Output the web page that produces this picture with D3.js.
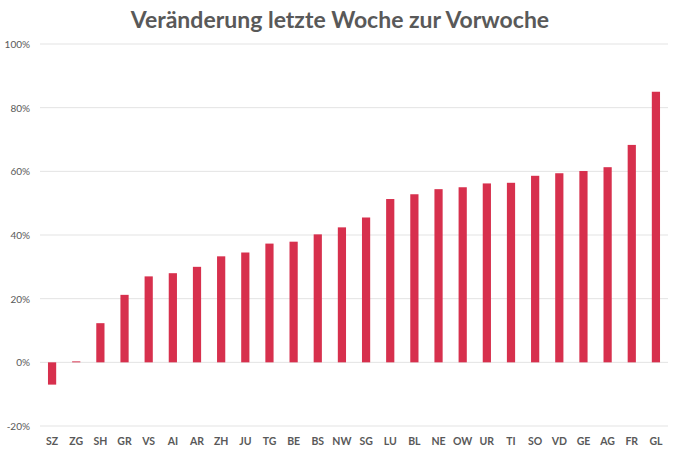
<!DOCTYPE html>
<html><head><meta charset="utf-8">
<script src="https://cdn.jsdelivr.net/npm/d3@7"></script>
<style>body{margin:0;background:#fff}</style>
</head><body>
<svg id="chart" width="680" height="454"></svg>
<script>
var cantons = ["SZ","ZG","SH","GR","VS","AI","AR","ZH","JU","TG","BE","BS","NW","SG","LU","BL","NE","OW","UR","TI","SO","VD","GE","AG","FR","GL"];
var changes = [-7,0.3,12.3,21.2,27,28,30,33.3,34.5,37.3,37.9,40.2,42.4,45.5,51.3,52.8,54.4,55,56.2,56.4,58.6,59.4,60.1,61.3,68.3,85];
var ticks = [-20,0,20,40,60,80,100];

var svg = d3.select("#chart");
var margin = {top:44, right:12, bottom:28, left:40};
var w = 680 - margin.left - margin.right, h = 454 - margin.top - margin.bottom;

var x = d3.scaleBand().domain(cantons).range([margin.left, margin.left + w]).paddingInner(0.66).paddingOuter(0.33);
var y = d3.scaleLinear().domain([-20,100]).range([margin.top + h, margin.top]);

svg.append("text").attr("x",340).attr("y",28).attr("text-anchor","middle")
    .style("font-family","Lato").style("font-weight","bold").style("font-size","23px").style("fill","#595959")
    .text("Veränderung letzte Woche zur Vorwoche");

svg.append("g").selectAll("line").data(ticks).enter().append("line")
    .attr("x1",margin.left).attr("x2",margin.left + w)
    .attr("y1",d => y(d)).attr("y2",d => y(d))
    .style("stroke","#e3e3e3").style("stroke-width",1);

svg.append("g").selectAll("text").data(ticks).enter().append("text")
    .attr("x",margin.left - 10).attr("y",d => y(d) + 4).attr("text-anchor","end")
    .style("font-family","Lato").style("font-size","10px").style("fill","#595959")
    .text(d => d + "%");

svg.append("g").selectAll("rect").data(cantons).enter().append("rect")
    .attr("x",d => x(d)).attr("width",x.bandwidth())
    .attr("y",(d,i) => y(Math.max(0,changes[i])))
    .attr("height",(d,i) => Math.abs(y(changes[i]) - y(0)))
    .style("fill","#d7304d");

svg.append("g").selectAll("text").data(cantons).enter().append("text")
    .attr("x",d => x(d) + x.bandwidth()/2).attr("y",445).attr("text-anchor","middle")
    .style("font-family","Lato").style("font-weight","bold").style("font-size","10.5px").style("fill","#595959")
    .text(d => d);
</script>
</body></html>
